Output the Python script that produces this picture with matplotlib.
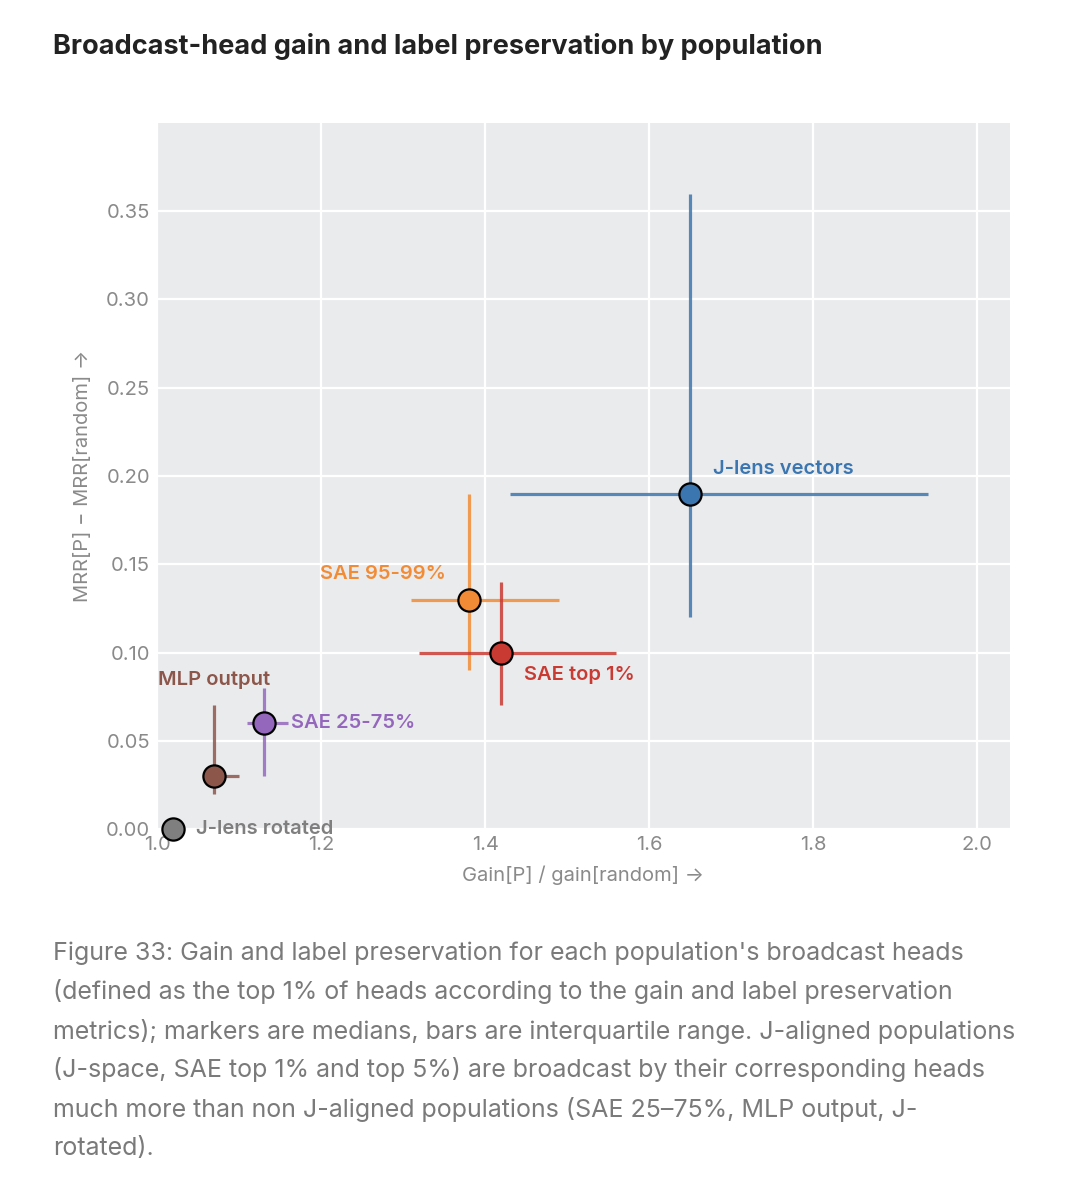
import matplotlib
matplotlib.use("Agg")
import matplotlib.pyplot as plt
import numpy as np

plt.rcParams['font.family'] = ['Inter', 'DejaVu Sans']

# medians and interquartile ranges
populations = ["J-lens vectors", "SAE 95-99%", "SAE top 1%", "SAE 25-75%", "MLP output", "J-lens rotated"]
gain_med = [1.65, 1.38, 1.42, 1.13, 1.07, 1.02]
gain_q1 = [1.43, 1.31, 1.32, 1.11, 1.07, 1.02]
gain_q3 = [1.94, 1.49, 1.56, 1.16, 1.10, 1.02]
mrr_med = [0.19, 0.13, 0.10, 0.06, 0.03, 0.00]
mrr_q1 = [0.12, 0.09, 0.07, 0.03, 0.02, 0.00]
mrr_q3 = [0.36, 0.19, 0.14, 0.08, 0.07, 0.00]

colors = ["#3b76b0", "#f28b35", "#c93a33", "#9467bd", "#8c564b", "#7f7f7f"]
# label placement: (dx, dy) in pixels, horizontal alignment
label_pos = [
    ((23, 25), 'left'),
    ((-23, 26), 'right'),
    ((23, -23), 'left'),
    ((27, 0), 'left'),
    ((0, 96), 'center'),
    ((23, 0), 'left'),
]

fig = plt.figure(figsize=(10.8, 11.99), dpi=100)
ax = fig.add_axes([157 / 1080, 1 - 829 / 1199, 853 / 1080, 706 / 1199])
ax.set_facecolor("#eaebed")
for s in ax.spines.values():
    s.set_visible(False)
ax.grid(True, color="white", linewidth=1.6)
ax.set_axisbelow(True)

for i, name in enumerate(populations):
    x, y = gain_med[i], mrr_med[i]
    xerr = [[x - gain_q1[i]], [gain_q3[i] - x]]
    yerr = [[y - mrr_q1[i]], [mrr_q3[i] - y]]
    if gain_q3[i] > gain_q1[i] or mrr_q3[i] > mrr_q1[i]:
        ax.errorbar([x], [y], xerr=xerr, yerr=yerr, fmt='none',
                    ecolor=colors[i], elinewidth=2.3, alpha=0.85, capsize=0, zorder=3)
    ax.plot([x], [y], 'o', markersize=16, markerfacecolor=colors[i],
            markeredgecolor='black', markeredgewidth=1.6, zorder=4, clip_on=False)
    (dx, dy), ha = label_pos[i]
    ax.annotate(name, (x, y), xytext=(dx, dy), textcoords='offset pixels',
                ha=ha, va='center', color=colors[i], fontsize=14.5,
                fontweight='semibold', zorder=5, annotation_clip=False)

ax.set_xlim(1.0, 2.04)
ax.set_ylim(0, 0.40)
ax.set_xticks(np.arange(1.0, 2.01, 0.2))
ax.set_yticks(np.arange(0, 0.351, 0.05))
ax.set_xticklabels([f"{v:.1f}" for v in np.arange(1.0, 2.01, 0.2)])
ax.set_yticklabels([f"{v:.2f}" for v in np.arange(0, 0.351, 0.05)])
ax.tick_params(length=0, labelsize=14.5, labelcolor="#8a8a8a", pad=5)

ax.set_xlabel("Gain[P] / gain[random] →", fontsize=14.5, color="#8a8a8a", labelpad=8)
ax.set_ylabel("MRR[P] − MRR[random] →", fontsize=14.5, color="#8a8a8a", labelpad=10)

fig.text(53 / 1080, 1 - 46 / 1199, "Broadcast-head gain and label preservation by population",
         fontsize=19.5, fontweight='bold', color="#222222", ha='left', va='center')

caption = [
    "Figure 33: Gain and label preservation for each population's broadcast heads",
    "(defined as the top 1% of heads according to the gain and label preservation",
    "metrics); markers are medians, bars are interquartile range. J-aligned populations",
    "(J-space, SAE top 1% and top 5%) are broadcast by their corresponding heads",
    "much more than non J-aligned populations (SAE 25–75%, MLP output, J-",
    "rotated).",
]
for k, line in enumerate(caption):
    fig.text(53 / 1080, 1 - (953 + 39 * k) / 1199, line, fontsize=18,
             color="#7a7a7a", ha='left', va='center')

fig.savefig("out.png", dpi=100, facecolor="white")
